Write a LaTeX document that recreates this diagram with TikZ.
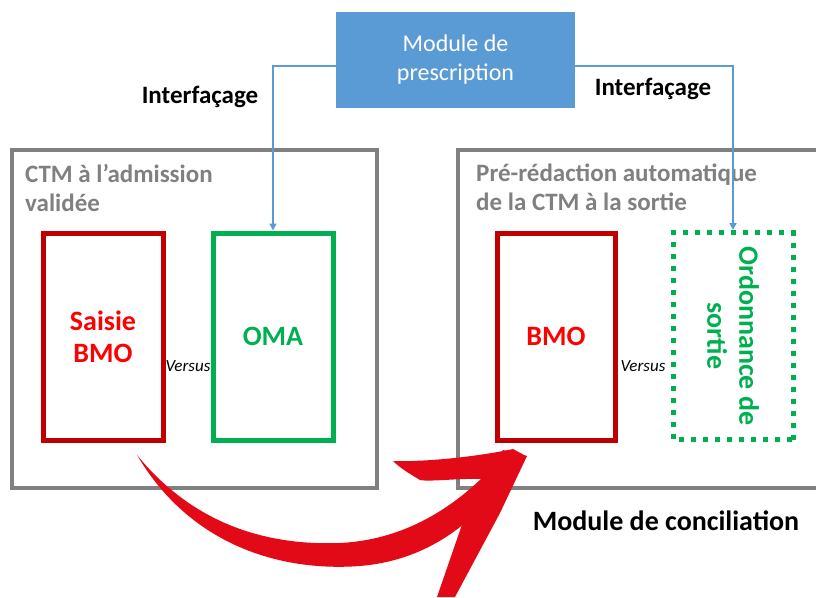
\documentclass[tikz,border=0pt]{standalone}
\usepackage{fontspec}
\setmainfont{Carlito}
\usepackage{tikz}
\usetikzlibrary{arrows.meta,positioning}
\definecolor{prescblue}{HTML}{5B9BD5}
\definecolor{boxgray}{HTML}{808080}
\definecolor{bmored}{HTML}{C00000}
\definecolor{bmotext}{HTML}{FF0000}
\definecolor{omagreen}{HTML}{00B050}
\definecolor{brushred}{HTML}{E20A16}
\tikzstyle{connect}=[draw=prescblue, line width=1.6pt, -{Triangle[width=7pt,length=7pt]}]
\tikzstyle{group}=[draw=boxgray, line width=4pt, inner sep=0pt]
\tikzstyle{grouptitle}=[anchor=north west, align=left, text=boxgray, font=\fontsize{25}{29}\selectfont\bfseries, inner sep=0pt]
\tikzstyle{list}=[line width=5pt, minimum width=120pt, minimum height=207pt, font=\fontsize{28}{32}\selectfont\bfseries, align=center]
\tikzstyle{bmo}=[list, draw=bmored, text=bmotext]
\tikzstyle{oma}=[list, draw=omagreen, text=omagreen]
\tikzstyle{vs}=[font=\fontsize{17}{20}\selectfont\itshape]
\tikzstyle{tag}=[font=\fontsize{25}{29}\selectfont\bfseries]
\newcommand{\vers}{Versus}

\begin{document}
\begin{tikzpicture}[x=1pt, y=-1pt]
    \useasboundingbox (0,0) rectangle (816,597);

    % prescription module
    \node[fill=prescblue, text=white, minimum width=239pt, minimum height=96pt, align=center,
          font=\fontsize{24}{29}\selectfont] (presc) at (455.5,60) {Module de\\prescription};
    \node[tag] (ifleft) at (200,97) {Interfaçage};
    \node[tag] (ifright) at (653,89) {Interfaçage};

    % admission side
    \node[group, minimum width=365pt, minimum height=338pt] (adm) at (194.5,319) {};
    \node[grouptitle] (admtitle) at (25,164) {CTM à l’admission\\validée};
    \node[bmo] (saisie) at (103,336.5) {Saisie\\BMO};
    \node[oma] (oma) at (273,336.5) {OMA};
    \node[vs] (vsleft) at (188,366) {\vers};

    % discharge side
    \node[group, minimum width=400pt, minimum height=338pt] (sortie) at (658,319) {};
    \node[grouptitle] (sortitle) at (476,164) {Pré-rédaction automatique\\de la CTM à la sortie};
    \node[bmo, minimum width=118pt] (bmo) at (556,336.5) {BMO};
    \node[oma, dash pattern=on 5pt off 7pt, rotate=-90, minimum width=207pt, minimum height=120pt] (ord) at (733,336) {Ordonnance de\\sortie};
    \node[vs] (vsright) at (643,366) {\vers};
    \node[font=\fontsize{28}{33}\selectfont\bfseries] (concil) at (666,521) {Module de conciliation};

    % links
    \draw[connect] ([yshift=-6pt]presc.west) -| (oma.north);
    \draw[connect] ([yshift=-6pt]presc.east) -| (ord.west);

    % brush arrow
    \fill[brushred] (137,455) .. controls (190,545) and (280,572) .. (360,566)
        .. controls (420,561) and (470,530) .. (505,478)
        -- (492,468) .. controls (450,512) and (400,540) .. (340,543)
        .. controls (260,546) and (190,520) .. cycle;
    \fill[brushred] (393,461) .. controls (430,462) and (480,456) .. (513,449)
        -- (526,456) -- (482,479) .. controls (460,478) and (430,482) .. (420,480)
        .. controls (410,474) and (400,468) .. cycle;
    \fill[brushred] (503,450) -- (527,456) -- (500,513) -- (455,597) -- (437,597)
        -- (466,513) -- cycle;
\end{tikzpicture}
\end{document}
